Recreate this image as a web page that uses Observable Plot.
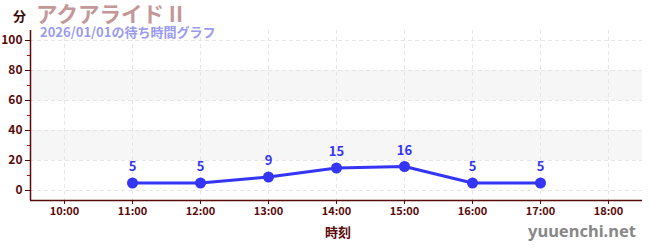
<!DOCTYPE html>
<html><head><meta charset="utf-8">
<script src="https://cdn.jsdelivr.net/npm/d3@7"></script>
<script src="https://cdn.jsdelivr.net/npm/@observablehq/plot@0.6"></script>
<style>
body{margin:0;background:#fff;font-family:"Noto Sans CJK JP","Noto Sans",sans-serif;}
#wrap{position:relative;width:650px;height:250px;overflow:hidden;}
.t{position:absolute;white-space:nowrap;font-weight:bold;line-height:1;}
</style></head>
<body><div id="wrap"></div>
<script>
const title = "アクアライド II";
const subtitle = "2026/01/01の待ち時間グラフ";
const yLabel = "分";
const xLabel = "時刻";
const credit = "yuuenchi.net";
const hours = [11, 12, 13, 14, 15, 16, 17];
const waits = [5, 5, 9, 15, 16, 5, 5];
const xTicks = [10, 11, 12, 13, 14, 15, 16, 17, 18];
const yTicks = [0, 20, 40, 60, 80, 100];
const yMinor = [10, 30, 50, 70, 90];
const bands = [[20, 40], [60, 80]];

const data = hours.map((h, i) => ({h, w: waits[i]}));
const axisCol = "#5a0a0a";
const lineCol = "#3535f5";

const chart = Plot.plot({
  width: 650, height: 250,
  marginLeft: 30, marginRight: 8, marginTop: 30, marginBottom: 50,
  style: {fontFamily: '"Noto Sans CJK JP", sans-serif', fontSize: "11px", background: "transparent"},
  x: {domain: [9.5, 18.5], axis: null, label: null},
  y: {domain: [-6.67, 106.67], axis: null, label: null},
  marks: [
    Plot.rect(bands, {x1: 9.5, x2: 18.5, y1: d => d[0], y2: d => d[1], fill: "#f6f6f6"}),
    Plot.ruleY(yTicks, {stroke: "#e6e6e6", strokeDasharray: "4,3"}),
    Plot.ruleX(xTicks, {stroke: "#e6e6e6", strokeDasharray: "4,3"}),
    Plot.axisY(yMinor, {tickSize: 3, tickFormat: () => "", stroke: "#d00000", label: null}),
    Plot.axisY(yTicks, {tickSize: 5, tickPadding: 3, color: axisCol, fontWeight: "bold", fontSize: 12, stroke: axisCol, label: null}),
    Plot.axisX(xTicks, {tickSize: 4, tickPadding: 3, color: axisCol, fontWeight: "bold", fontSize: 11, tickFormat: d => d + ":00", stroke: axisCol, label: null}),
    Plot.ruleX([9.5], {stroke: axisCol, strokeWidth: 1.5}),
    Plot.ruleY([-6.67], {stroke: axisCol, strokeWidth: 1.5}),
    Plot.line(data, {x: "h", y: "w", stroke: lineCol, strokeWidth: 3}),
    Plot.dot(data, {x: "h", y: "w", r: 5.5, fill: lineCol}),
    Plot.text(data, {x: "h", y: "w", text: d => String(d.w), dy: -16, fill: lineCol, fontWeight: "bold", fontSize: 13})
  ]
});
const wrap = document.getElementById("wrap");
chart.style.position = "absolute"; chart.style.left = "0"; chart.style.top = "0";
wrap.appendChild(chart);
function add(txt, css){const d=document.createElement("div");d.className="t";d.textContent=txt;Object.assign(d.style,css);wrap.appendChild(d);}
add(yLabel, {left:"13px", top:"9px", fontSize:"13px", color:"#3a0a0a"});
add(title, {left:"36px", top:"2px", fontSize:"21.5px", color:"#c49898"});
add(subtitle, {left:"40px", top:"25px", fontSize:"13px", color:"#9a9af0"});
add(xLabel, {left:"325px", top:"225px", fontSize:"13px", color:axisCol});
add(credit, {right:"14px", top:"223px", fontSize:"16.5px", color:"#888", fontFamily:'"Noto Sans", sans-serif'});
</script></body></html>
